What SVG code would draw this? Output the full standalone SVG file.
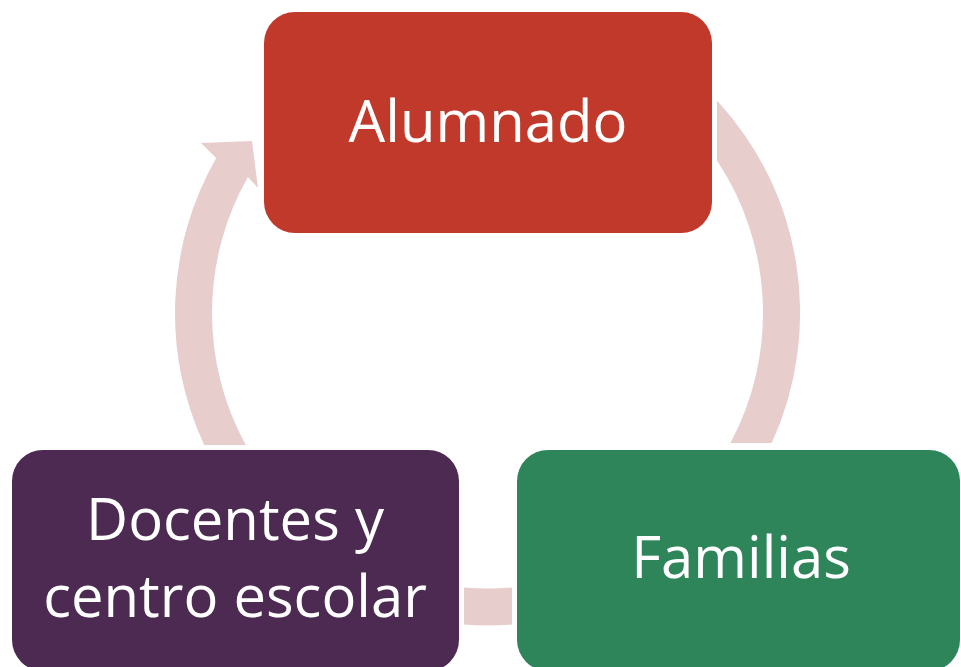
<svg xmlns="http://www.w3.org/2000/svg" width="961" height="667" viewBox="0 0 961 667">
<style>
.arc{fill:#E8CDCD;stroke:none}
.box{stroke:none}
.lbl{font-family:"Open Sans","Liberation Sans",sans-serif;font-size:58px;fill:#FFFFFF;text-anchor:middle}
</style>
<rect width="961" height="667" fill="#FFFFFF"/>
<g id="connectors">
<path class="arc" d="M717,100.5 A312.5,312.5 0 0 1 771.7,443 L730.4,443 A275.5,275.5 0 0 0 717,160.6 Z"/>
<path class="arc" d="M464,587.5 A275.5,275.5 0 0 0 512,587.4 L512,624.5 A312.5,312.5 0 0 1 464,624.6 Z"/>
<path class="arc" d="M204.2,445 A312.5,312.5 0 0 1 216.2,158 L201,143 L252,141 L258,188 L247.9,177 A275.5,275.5 0 0 0 245.7,445 Z"/>
</g>
<g id="alumnado">
<rect class="box" x="264" y="12" width="448" height="221" rx="31" fill="#C0392B"/>
<text class="lbl" x="488" y="142">Alumnado</text>
</g>
<g id="familias">
<rect class="box" x="517" y="450" width="443" height="221" rx="31" fill="#2F855A"/>
<text class="lbl" x="741" y="578">Familias</text>
</g>
<g id="docentes">
<rect class="box" x="12" y="450" width="447" height="221" rx="31" fill="#4D2A51"/>
<text class="lbl" x="235" y="540">Docentes y</text>
<text class="lbl" x="235" y="617">centro escolar</text>
</g>
</svg>
